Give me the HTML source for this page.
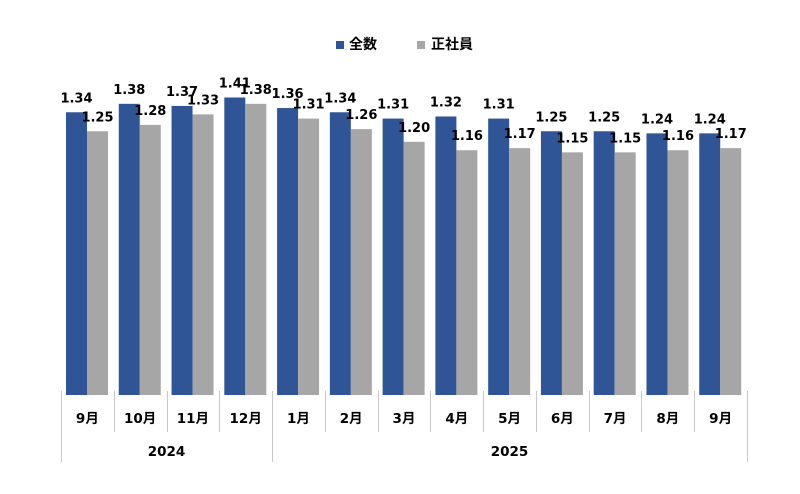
<!DOCTYPE html>
<html><head><meta charset="utf-8"><style>
html,body{margin:0;padding:0;background:#fff;}
svg{display:block;}
text{font-family:"DejaVu Sans","Noto Sans CJK JP",sans-serif;font-weight:bold;fill:#000;}
</style></head><body>
<svg width="800" height="494" viewBox="0 0 800 494" xmlns="http://www.w3.org/2000/svg">
<rect x="336" y="41" width="8" height="8" fill="#2f5597"/>
<text x="349" y="49" font-size="14" font-family="Noto Sans CJK JP">全数</text>
<rect x="417" y="41" width="8" height="8" fill="#a6a6a6"/>
<text x="431" y="49" font-size="14" font-family="Noto Sans CJK JP">正社員</text>
</svg>
<script>
var a=[1.34,1.38,1.37,1.41,1.36,1.34,1.31,1.32,1.31,1.25,1.25,1.24,1.24];
var b=[1.25,1.28,1.33,1.38,1.31,1.26,1.20,1.16,1.17,1.15,1.15,1.16,1.17];
var m=["9月","10月","11月","12月","1月","2月","3月","4月","5月","6月","7月","8月","9月"];
var ns="http://www.w3.org/2000/svg",svg=document.querySelector("svg");
function el(t,at,txt){var e=document.createElementNS(ns,t);for(var k in at)e.setAttribute(k,at[k]);if(txt)e.textContent=txt;svg.appendChild(e);return e;}
var p=52.77,x0=61,base=395,s=211;
for(var i=0;i<13;i++){
 var gx=x0+i*p, bx=gx+5;
 var ha=a[i]*s, hb=b[i]*s;
 el("rect",{x:bx,y:base-ha,width:21,height:ha,fill:"#2f5597"});
 el("rect",{x:bx+21,y:base-hb,width:21,height:hb,fill:"#a6a6a6"});
 el("text",{x:bx+10.5,y:base-ha-10,"font-size":13,"text-anchor":"middle"},a[i].toFixed(2));
 el("text",{x:bx+31.5,y:base-hb-10,"font-size":13,"text-anchor":"middle"},b[i].toFixed(2));
 el("text",{x:gx+p/2,y:423,"font-size":13.5,"text-anchor":"middle"},m[i]);
}
for(var i=0;i<=13;i++){
 var x=Math.round(x0+i*p)+0.5;
 var y2=(i==0||i==4||i==13)?462:432;
 el("line",{x1:x,y1:391,x2:x,y2:y2,stroke:"#c8c8c8","stroke-width":1});
}
el("text",{x:x0+2*p,y:456,"font-size":13.5,"text-anchor":"middle"},"2024");
el("text",{x:x0+8.5*p,y:456,"font-size":13.5,"text-anchor":"middle"},"2025");
</script>
</body></html>
